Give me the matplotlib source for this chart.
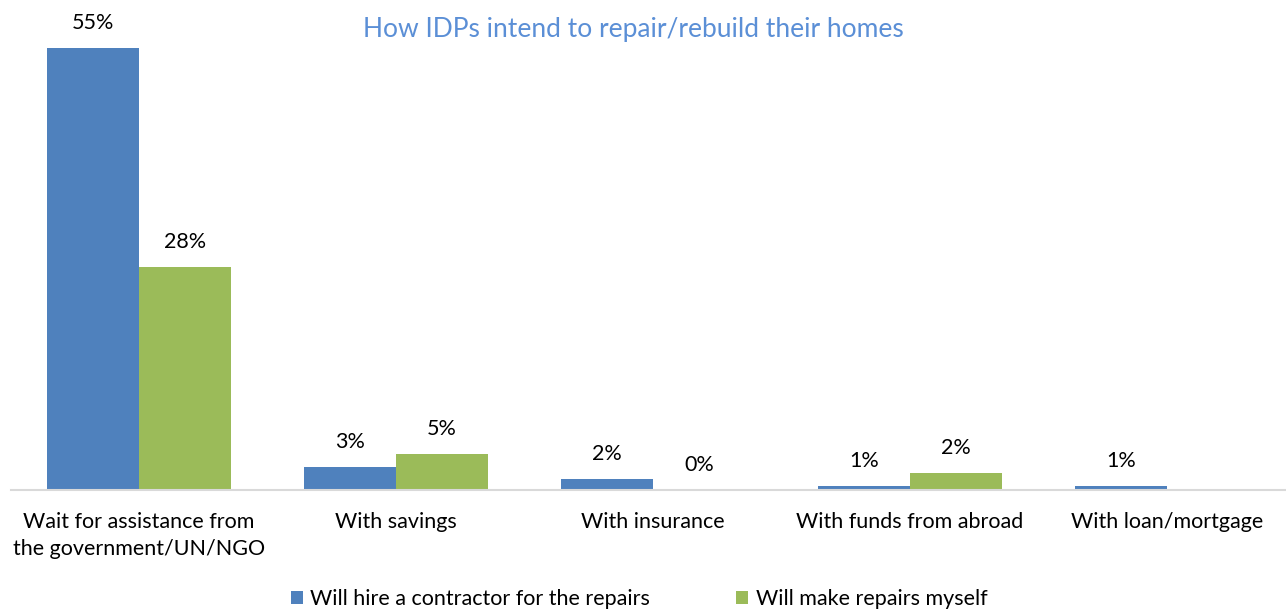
import matplotlib
matplotlib.use("Agg")
import matplotlib.pyplot as plt
from matplotlib.patches import Patch
import numpy as np

categories = ["Wait for assistance from\nthe government/UN/NGO", "With savings",
              "With insurance", "With funds from abroad", "With loan/mortgage"]
series_names = ["Will hire a contractor for the repairs", "Will make repairs myself"]
contractor = [55.0, 2.9, 1.4, 0.5, 0.5]
myself = [27.7, 4.5, 0.0, 2.1, np.nan]
contractor_labels = ["55%", "3%", "2%", "1%", "1%"]
myself_labels = ["28%", "5%", "0%", "2%", ""]
title = "How IDPs intend to repair/rebuild their homes"

BLUE = "#4F81BD"
GREEN = "#9BBB59"
FONT = ["Lato", "DejaVu Sans"]
plt.rcParams["font.family"] = FONT

W, H = 1286, 612
fig = plt.figure(figsize=(W / 100, H / 100), dpi=100)
left_px, right_px = 10.5, 10.5 + 1285
base_px = 490
ax = fig.add_axes([left_px / W, 1 - base_px / H, (right_px - left_px) / W, base_px / H])

x = np.arange(len(categories))
bw = 0.355
off = 0.179
b1 = ax.bar(x - off, contractor, bw, color=BLUE, zorder=2)
b2 = ax.bar(x + off, myself, bw, color=GREEN, zorder=2)

ax.set_xlim(-0.5, len(categories) - 0.5)
ax.set_ylim(0, base_px / (442 / 55.0))

for bars, labels in ((b1, contractor_labels), (b2, myself_labels)):
    for rect, lab in zip(bars, labels):
        if not lab:
            continue
        h = rect.get_height()
        if np.isnan(h):
            h = 0
        ax.annotate(lab, (rect.get_x() + rect.get_width() / 2, h),
                    xytext=(0, 18), textcoords="offset points",
                    ha="center", va="center", fontsize=15.5, color="#000000")

for s in ["top", "right", "left"]:
    ax.spines[s].set_visible(False)
ax.spines["bottom"].set_color("#D9D9D9")
ax.spines["bottom"].set_linewidth(1.5)
ax.set_yticks([])
ax.set_xticks(x)
ax.set_xticklabels(categories, fontsize=15.5, linespacing=1.45)
ax.tick_params(axis="x", length=0, pad=16)

fig.text(633 / W, 1 - 30 / H, title, ha="center", va="center",
         fontsize=19, color="#5B8FD6")

handles = [Patch(facecolor=BLUE), Patch(facecolor=GREEN)]
fig.legend(handles, series_names, loc="center", bbox_to_anchor=(639 / W, 1 - 599 / H),
           ncol=2, frameon=False, fontsize=15.5, handlelength=0.55, handleheight=0.55,
           handletextpad=0.35, columnspacing=4.0)

fig.savefig("out.png", dpi=100)
